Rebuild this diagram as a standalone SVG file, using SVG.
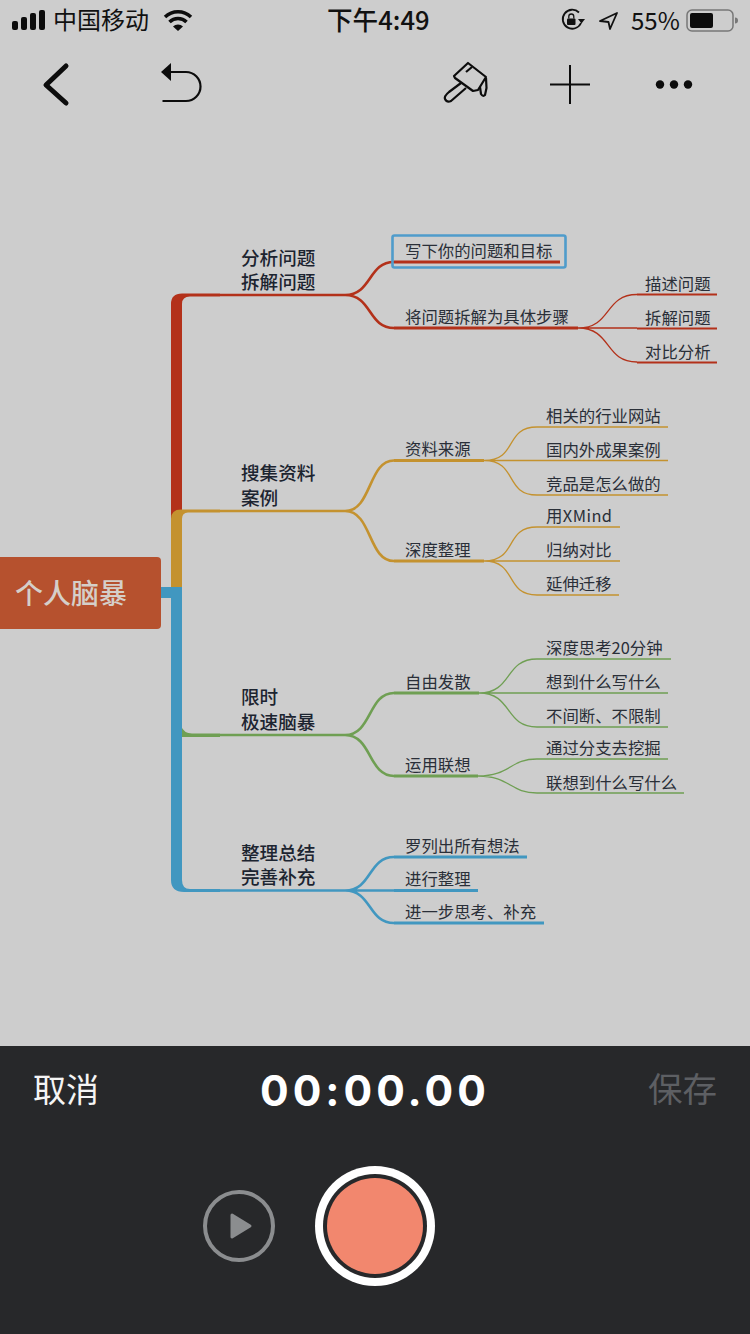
<svg xmlns="http://www.w3.org/2000/svg" width="750" height="1334" viewBox="0 0 750 1334">
<style>
text{font-family:"Noto Sans CJK SC","Liberation Sans",sans-serif}
.m{font-size:18.6px;font-weight:500;fill:#1c2430}
.s{font-size:16.4px;fill:#2a2f38}
.c{fill:none;stroke-linecap:butt}
.r{stroke:#b3311a}.y{stroke:#c4922f}.g{stroke:#6f9f53}.b{stroke:#4197c0}
.w2{stroke-width:2.6px}.w1{stroke-width:1.3px}.w3{stroke-width:3px}
.ic{fill:none;stroke:#0c0c0c;stroke-width:2.2px;stroke-linejoin:round}
</style>
<rect width="750" height="1334" fill="#cdcdcd"/>
<g id="status-bar">
<rect x="12" y="21" width="6" height="9" rx="2" fill="#0c0c0c"/><rect x="21" y="17" width="6" height="13" rx="2" fill="#0c0c0c"/><rect x="30" y="13" width="6" height="17" rx="2" fill="#0c0c0c"/><rect x="39" y="10" width="6" height="20" rx="2" fill="#0c0c0c"/>
<text x="53" y="29" font-size="24" fill="#111">中国移动</text>
<path d="M165 17a19 19 0 0 1 26 0M169.500 22a12 12 0 0 1 17 0" fill="none" stroke="#0c0c0c" stroke-width="3.500"/><path d="M173 26.500a7 7 0 0 1 10 0L178 31z" fill="#0c0c0c"/>
<text x="327" y="29.500" font-size="25.600" font-weight="500" fill="#111">下午4:49</text>
<path d="M581 23A9.500 9.500 0 1 1 579 12.500" fill="none" stroke="#111" stroke-width="1.800"/><path d="M578 19H585L581.500 23.500z" fill="#111"/><rect x="567" y="18.500" width="8.500" height="6.500" rx="1" fill="#111"/><path d="M568.800 18.500v-2a2.500 2.500 0 0 1 5 0v2" fill="none" stroke="#111" stroke-width="1.300"/>
<path d="M600 21L617 13L610 29L608.500 22z" fill="none" stroke="#111" stroke-width="1.800" stroke-linejoin="round"/>
<text x="631" y="29.500" font-size="24" fill="#111">55%</text>
<rect x="687" y="10" width="46" height="21" rx="5" fill="none" stroke="#777" stroke-width="1.500"/><rect x="690" y="13" width="23" height="15" rx="2" fill="#0c0c0c"/><path d="M735 17.500a3 3 0 0 1 0 6z" fill="#777"/>
</g>
<g id="toolbar">
<path d="M66 66L46 85L66 103" fill="none" stroke="#0c0c0c" stroke-width="5" stroke-linecap="round" stroke-linejoin="round"/>
<path d="M162 72H186a14.500 14.500 0 0 1 0 29H162.500" class="ic"/><path d="M171 63V81L161 72z" fill="#0c0c0c"/>
<path d="M468 63L486 77L478 90L473 91L455 78L454 76z" class="ic"/><path d="M461 83L449 92Q444 96 445 99Q447 103 451 101L466 88" class="ic"/><path d="M480 87L481 94Q483 97 485 95L486.500 88L486 78" class="ic"/><path d="M466 72L472 67" class="ic"/>
<path d="M550 84.500H590M570 65V104" fill="none" stroke="#0c0c0c" stroke-width="2"/>
<circle cx="660" cy="84.500" r="4.200" fill="#0c0c0c"/><circle cx="674" cy="84.500" r="4.200" fill="#0c0c0c"/><circle cx="688" cy="84.500" r="4.200" fill="#0c0c0c"/>
</g>
<g id="connectors">
<g id="trunks">
<path d="M171 592V304Q171 293.500 182 293.500H220V296.500H190Q182 296.500 182 304V520H171z" fill="#b3311a"/>
<path d="M171 587V519Q171 509.500 181 509.500H220V512.500H188Q182 512.500 182 519V587z" fill="#c4922f"/>
<path d="M181 726Q184 733.500 192 733.500H220V737H181z" fill="#6f9f53"/>
<path d="M161 587H182V880Q182 889 190 889H220V892H184Q171 892 171 880V598H161z" fill="#4197c0"/>
</g>
<path class="c r w2" d="M220 295H345C372 295 368 262 394 262M345 295C372 295 368 328 394 328"/>
<path class="c r w3" d="M394 262H560M394 328H578"/>
<path class="c r w1" d="M578 328C612 328 604 294.500 637 294.500M578 328H637M578 328C612 328 604 362 637 362"/>
<path class="c r" stroke-width="2" d="M637 294.500H717M637 328.500H717M637 362.500H717"/>
<path class="c y w2" d="M220 511H345C372 511 368 460.500 394 460.500M345 511C372 511 368 561 394 561"/>
<path class="c y w3" d="M394 460.500H484M394 561H484"/>
<path class="c y w1" d="M484 460.500C518 460.500 504 427 537 427H668M484 460.500H668M484 460.500C518 460.500 504 495 537 495H668M484 561C518 561 504 527 537 527H620M484 561H620M484 561C518 561 504 595 537 595H619"/>
<path class="c g w2" d="M220 735H345C372 735 368 693 394 693M345 735C372 735 368 776 394 776"/>
<path class="c g w3" d="M394 693H479M394 776H478"/>
<path class="c g w1" d="M479 693C513 693 504 659 537 659H671M479 693H668M479 693C513 693 504 727 537 727H668M478 776C510 776 510 759 537 759H668M478 776C510 776 510 793 537 793H684"/>
<path class="c b w2" d="M220 890.500H345C372 890.500 368 857 394 857M345 890.500H394M345 890.500C372 890.500 368 923 394 923"/>
<path class="c b w3" d="M394 857H527M394 890.500H478M394 923H544"/>
</g>
<g id="root"><rect x="-10" y="557" width="171" height="72" rx="4" fill="#b6512e"/><text x="15" y="604" font-size="28" font-weight="500" fill="#d5cfc9">个人脑暴</text></g>
<g id="n1"><text class="m"><tspan x="241" y="265">分析问题</tspan><tspan x="241" y="289">拆解问题</tspan></text></g>
<g id="n1-1"><rect x="392.500" y="235.500" width="173" height="32" rx="2" fill="none" stroke="#4f9ccb" stroke-width="2.600"/><text class="s" x="405" y="257">写下你的问题和目标</text></g>
<g id="n1-2"><text class="s" x="405" y="323">将问题拆解为具体步骤</text></g>
<g id="n1-2-1"><text class="s" x="645" y="290">描述问题</text></g>
<g id="n1-2-2"><text class="s" x="645" y="324">拆解问题</text></g>
<g id="n1-2-3"><text class="s" x="645" y="358">对比分析</text></g>
<g id="n2"><text class="m"><tspan x="241" y="480">搜集资料</tspan><tspan x="241" y="505">案例</tspan></text></g>
<g id="n2-1"><text class="s" x="405" y="455">资料来源</text></g>
<g id="n2-2"><text class="s" x="405" y="556">深度整理</text></g>
<g id="n2-1-1"><text class="s" x="546" y="422">相关的行业网站</text></g>
<g id="n2-1-2"><text class="s" x="546" y="456">国内外成果案例</text></g>
<g id="n2-1-3"><text class="s" x="546" y="490">竞品是怎么做的</text></g>
<g id="n2-2-1"><text class="s" x="546" y="522" textLength="66">用XMind</text></g>
<g id="n2-2-2"><text class="s" x="546" y="556">归纳对比</text></g>
<g id="n2-2-3"><text class="s" x="546" y="590">延伸迁移</text></g>
<g id="n3"><text class="m"><tspan x="241" y="704">限时</tspan><tspan x="241" y="729">极速脑暴</tspan></text></g>
<g id="n3-1"><text class="s" x="405" y="688">自由发散</text></g>
<g id="n3-2"><text class="s" x="405" y="771">运用联想</text></g>
<g id="n3-1-1"><text class="s" x="546" y="654">深度思考20分钟</text></g>
<g id="n3-1-2"><text class="s" x="546" y="688">想到什么写什么</text></g>
<g id="n3-1-3"><text class="s" x="546" y="722">不间断、不限制</text></g>
<g id="n3-2-1"><text class="s" x="546" y="754">通过分支去挖掘</text></g>
<g id="n3-2-2"><text class="s" x="546" y="789">联想到什么写什么</text></g>
<g id="n4"><text class="m"><tspan x="241" y="860">整理总结</tspan><tspan x="241" y="884">完善补充</tspan></text></g>
<g id="n4-1"><text class="s" x="405" y="852">罗列出所有想法</text></g>
<g id="n4-2"><text class="s" x="405" y="885">进行整理</text></g>
<g id="n4-3"><text class="s" x="405" y="918">进一步思考、补充</text></g>
<g id="record-panel">
<rect y="1046" width="750" height="288" fill="#27282a"/>
<text x="33" y="1102" font-size="33" fill="#f4f4f4">取消</text>
<text x="260" y="1106" font-size="42.500" font-weight="700" letter-spacing="4" fill="#fff" style="font-family:Inter,'Liberation Sans',sans-serif">00:00.00</text>
<text x="648" y="1102" font-size="34.500" fill="#5d5f63">保存</text>
<circle cx="239" cy="1226" r="34" fill="none" stroke="#8b8d8f" stroke-width="4"/>
<path d="M232 1215L250 1226L232 1237z" fill="#8b8d8f" stroke="#8b8d8f" stroke-width="3" stroke-linejoin="round"/>
<circle cx="375" cy="1226" r="60" fill="#fff"/><circle cx="375" cy="1226" r="52" fill="#27282a"/><circle cx="375" cy="1226" r="48" fill="#f2876e"/>
</g>
</svg>
